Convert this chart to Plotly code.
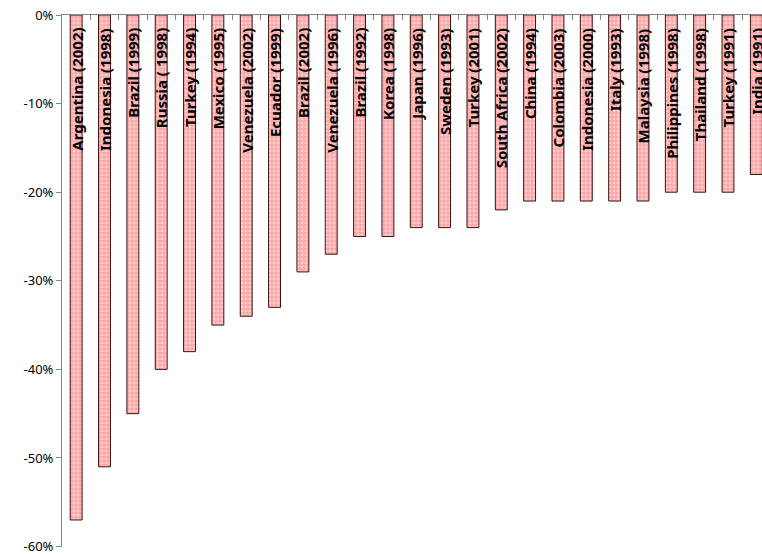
import plotly.graph_objects as go

categories = ["Argentina (2002)", "Indonesia (1998)", "Brazil (1999)", "Russia ( 1998)",
              "Turkey (1994)", "Mexico (1995)", "Venezuela (2002)", "Ecuador (1999)",
              "Brazil (2002)", "Venezuela (1996)", "Brazil (1992)", "Korea (1998)",
              "Japan (1996)", "Sweden (1993)", "Turkey (2001)", "South Africa (2002)",
              "China (1994)", "Colombia (2003)", "Indonesia (2000)", "Italy (1993)",
              "Malaysia (1998)", "Philippines (1998)", "Thailand (1998)", "Turkey (1991)",
              "India (1991)"]
values = [-57, -51, -45, -40, -38, -35, -34, -33, -29, -27, -25, -25, -24, -24, -24,
          -22, -21, -21, -21, -21, -21, -20, -20, -20, -18]
ytick_vals = [0, -10, -20, -30, -40, -50, -60]
ytick_text = ["0%", "-10%", "-20%", "-30%", "-40%", "-50%", "-60%"]

xs = list(range(len(categories)))

fig = go.Figure()
fig.add_trace(go.Bar(
    x=xs, y=values,
    marker=dict(
        color="#ffb8b8",
        line=dict(color="#3a1010", width=1),
        pattern=dict(shape="+", fgcolor="#ff5a5a", bgcolor="#ffd0d0", size=4, solidity=0.45),
    ),
    hoverinfo="skip",
))

for x, c in zip(xs, categories):
    fig.add_annotation(x=x, y=0, text="<b>" + c + "</b>", textangle=-90,
                       showarrow=False, xanchor="center", yanchor="top", yshift=-11,
                       font=dict(family="Noto Sans", size=15, color="#000000"))

fig.update_layout(
    width=762, height=554,
    margin=dict(l=62, r=0, t=15, b=7),
    paper_bgcolor="white", plot_bgcolor="white",
    bargap=0.58,
    showlegend=False,
    font=dict(family="Noto Sans", size=13, color="#000000"),
)
fig.update_xaxes(
    range=[-0.5, 24.2], side="top", showticklabels=False,
    tickmode="array", tickvals=[i + 0.5 for i in range(-1, len(categories))],
    ticks="inside", ticklen=5, tickcolor="#868686",
    showline=True, linecolor="#868686", linewidth=1,
    showgrid=False, zeroline=False,
)
fig.update_yaxes(
    range=[-60.05, 0], tickvals=ytick_vals, ticktext=ytick_text,
    ticks="outside", ticklen=5, tickcolor="#868686",
    showline=True, linecolor="#868686", linewidth=1,
    showgrid=False, zeroline=False, ticklabeloverflow="allow",
    tickfont=dict(family="Noto Sans", size=13, color="#000000"),
)

fig.write_html("out.html")
